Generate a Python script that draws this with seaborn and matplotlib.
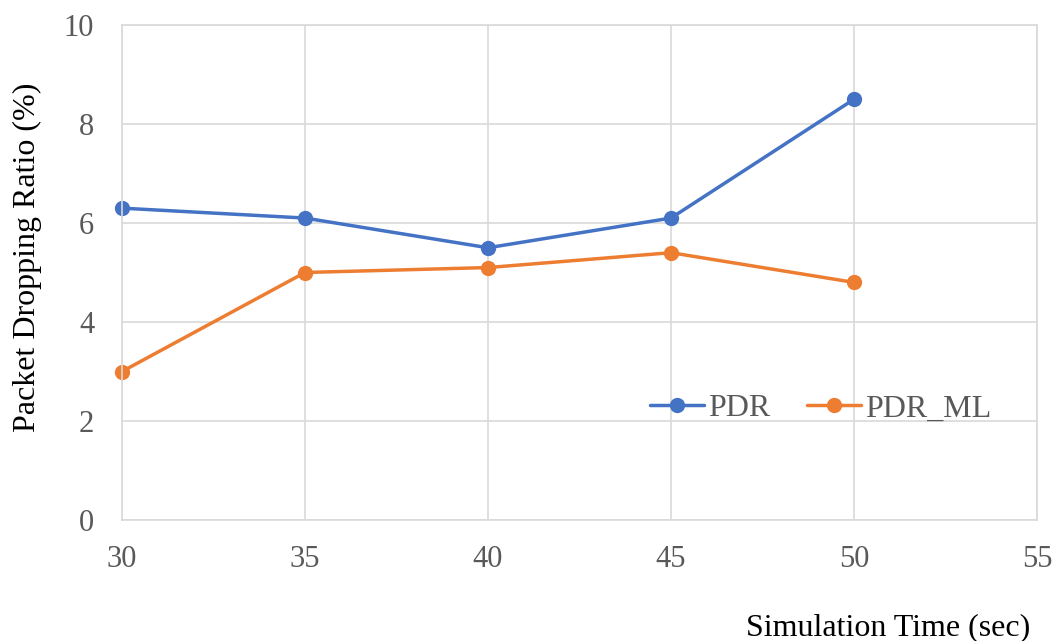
import matplotlib
matplotlib.use("Agg")
import matplotlib.pyplot as plt
import seaborn as sns
import pandas as pd

time_sec = [30, 35, 40, 45, 50]
pdr = [6.3, 6.1, 5.5, 6.1, 8.5]
pdr_ml = [3.0, 5.0, 5.1, 5.4, 4.8]
series_names = ["PDR", "PDR_ML"]
x_ticks = [30, 35, 40, 45, 50, 55]
y_ticks = [0, 2, 4, 6, 8, 10]

sns.set_theme(style="white")
plt.rcParams['font.family'] = ['Liberation Serif', 'DejaVu Serif']

df = pd.DataFrame({
    "time": time_sec * 2,
    "value": pdr + pdr_ml,
    "series": [series_names[0]] * len(pdr) + [series_names[1]] * len(pdr_ml),
})

fig = plt.figure(figsize=(10.55, 6.41), dpi=100)
ax = fig.add_axes([122/1055, 1 - 520/641, (1037-122)/1055, (520-25)/641])

palette = {"PDR": "#4472C4", "PDR_ML": "#ED7D31"}
sns.lineplot(data=df, x="time", y="value", hue="series", palette=palette,
             marker="o", markersize=11, markeredgewidth=0, linewidth=2.5, ax=ax)
for line in ax.lines:
    line.set_clip_on(False)

ax.set_xlim(30, 55)
ax.set_ylim(0, 10)
ax.set_xticks(x_ticks)
ax.set_yticks(y_ticks)
ax.grid(True, color="#d9d9d9", linewidth=1.2)
for s in ax.spines.values():
    s.set_color("#d9d9d9")
    s.set_linewidth(1.2)
ax.tick_params(axis="y", labelsize=22, labelcolor="#595959", length=0, pad=20)
ax.tick_params(axis="x", labelsize=22, labelcolor="#595959", length=0, pad=18)
ax.set_xlabel("")
ax.set_ylabel("Packet Dropping Ratio (%)", fontsize=23, color="black")
ax.yaxis.set_label_coords(-0.087, 0.53)

leg = ax.legend(loc="center left", bbox_to_anchor=(0.546, 0.225), ncol=2, frameon=False,
                fontsize=23, handlelength=1.69, handletextpad=0.12, columnspacing=1.15,
                labelcolor="#595959")

fig.text(1030/1055, 1 - 628/641, "Simulation Time (sec)", ha="right", va="center",
         fontsize=23, color="black")

fig.savefig("out.png", dpi=100, facecolor="white")
